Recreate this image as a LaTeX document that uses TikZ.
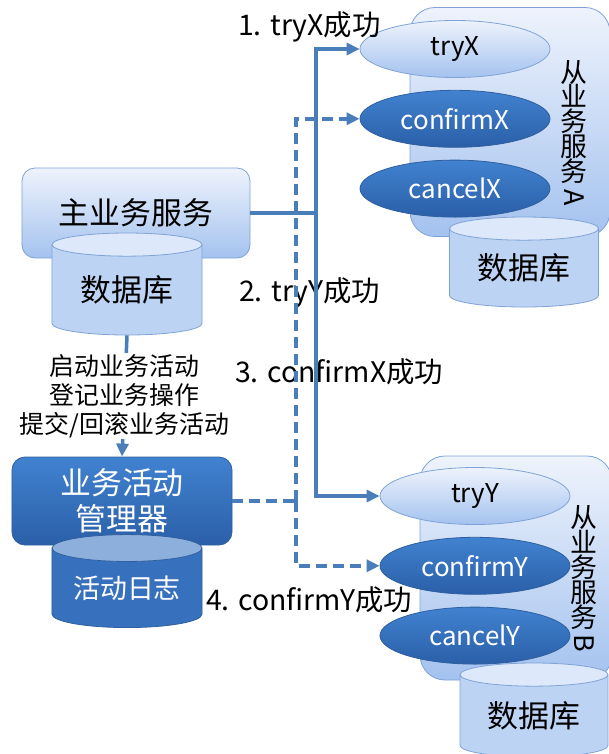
\documentclass[tikz,border=0pt]{standalone}
\usepackage{fontspec}
\setmainfont{Noto Sans CJK SC}
\usepackage{tikz}
\usetikzlibrary{shapes.geometric,arrows.meta,positioning,calc}
\usepackage{xcolor}
\definecolor{PaleTop}{HTML}{EEF3FC}
\definecolor{PaleBottom}{HTML}{A4C2EF}
\definecolor{PaleEdge}{HTML}{7FA3D6}
\definecolor{DeepTop}{HTML}{4182D0}
\definecolor{DeepBottom}{HTML}{2B5FA8}
\definecolor{DeepEdge}{HTML}{2E5F9E}
\definecolor{WireBlue}{HTML}{4A7EBB}
\definecolor{CanEnd}{HTML}{DDE8FA}
\definecolor{CanBody}{HTML}{BDD3F4}
\definecolor{LogEnd}{HTML}{8DAFDC}
\definecolor{LogBody}{HTML}{3771BE}

\begin{document}
\begin{tikzpicture}[x=1bp, y=1bp,
    palebox/.style={draw=PaleEdge, line width=0.8bp, top color=PaleTop, bottom color=PaleBottom, rounded corners=13bp, align=center},
    deepbox/.style={draw=DeepEdge, line width=0.8bp, top color=DeepTop, bottom color=DeepBottom, rounded corners=13bp, align=center, text=white},
    paleoval/.style={ellipse, draw=PaleEdge, line width=0.8bp, top color=PaleTop, bottom color=PaleBottom, minimum width=190bp, minimum height=57bp, inner sep=0pt, font=\fontsize{26}{28}\selectfont},
    deepoval/.style={ellipse, draw=DeepEdge, line width=0.8bp, top color=DeepTop, bottom color=DeepBottom, minimum width=190bp, minimum height=57bp, inner sep=0pt, text=white, font=\fontsize{26}{28}\selectfont},
    can/.style={cylinder, shape border rotate=90, aspect=0.25, draw=PaleEdge, line width=0.8bp, cylinder uses custom fill, cylinder end fill=CanEnd, cylinder body fill=CanBody, inner sep=0pt},
    vtext/.style={align=center, font=\fontsize{27}{25}\selectfont, inner sep=0pt},
    steplabel/.style={anchor=west, font=\fontsize{28.5}{30}\selectfont, inner sep=0pt},
    wire/.style={draw=WireBlue, line width=3.5bp},
    link/.style={wire, -{Triangle[length=13bp,width=12bp]}},
    dlink/.style={link, dash pattern=on 11bp off 6bp}
  ]
    \useasboundingbox (0,0) rectangle (609,-754);

    % Left column: main service and activity manager
    \node[palebox, minimum width=228bp, minimum height=90bp, font=\fontsize{31}{33}\selectfont] (mainSvc) at (136,-213) {主业务服务};
    \node[can, minimum width=150bp, minimum height=102bp, font=\fontsize{31}{33}\selectfont] (mainDB) at (127,-290) {数据库};
    \node[deepbox, minimum width=220bp, minimum height=88bp, font=\fontsize{31}{36}\selectfont] (manager) at (122,-501) {业务活动\\管理器};
    \node[can, draw=DeepEdge, cylinder end fill=LogEnd, cylinder body fill=LogBody, text=white, minimum width=150bp, minimum height=93bp, font=\fontsize{27}{29}\selectfont] (actLog) at (127,-588) {活动日志};

    % Right column: slave service A
    \node[palebox, rounded corners=25bp, minimum width=200bp, minimum height=229bp] (svcA) at (510,-122) {};
    \node[paleoval] (tryX) at (455,-49) {tryX};
    \node[deepoval, below=12bp of tryX] (confirmX) {confirmX};
    \node[deepoval, below=12bp of confirmX] (cancelX) {cancelX};
    \node[can, minimum width=149bp, minimum height=90bp, font=\fontsize{31}{33}\selectfont] (dbA) at (524,-268) {数据库};
    \node[vtext] (nameA) at (574,-133) {从\\业\\务\\服\\务\\[-17bp]\rotatebox{-90}{A}};

    % Right column: slave service B
    \node[palebox, rounded corners=25bp, minimum width=192bp, minimum height=224bp] (svcB) at (516,-568) {};
    \node[paleoval] (tryY) at (475,-496) {tryY};
    \node[deepoval, below=12bp of tryY] (confirmY) {confirmY};
    \node[deepoval, below=12bp of confirmY] (cancelY) {cancelY};
    \node[can, minimum width=148bp, minimum height=94bp, font=\fontsize{31}{33}\selectfont] (dbB) at (534,-716) {数据库};
    \node[vtext] (nameB) at (584,-579) {从\\业\\务\\服\\务\\[-17bp]\rotatebox{-90}{B}};

    % Step labels
    \node[steplabel] (s1) at (238,-27) {1. tryX成功};
    \node[steplabel] (s2) at (239,-293) {2. tryY成功};
    \node[steplabel] (s3) at (235,-372) {3. confirmX成功};
    \node[steplabel] (s4) at (206,-600) {4. confirmY成功};

    % Connectors
    \coordinate (solidBus) at (316,0);
    \coordinate (dashBus) at (296,0);
    \draw[wire] (mainSvc.east) -- (mainSvc.east -| solidBus);
    \draw[link] (mainSvc.east -| solidBus) |- (tryX.west);
    \draw[link] (mainSvc.east -| solidBus) |- (tryY.west);
    \draw[wire, dash pattern=on 11bp off 6bp] (manager.east) -- (manager.east -| dashBus);
    \draw[dlink] (manager.east -| dashBus) |- (confirmX.west);
    \draw[dlink] (manager.east -| dashBus) |- (confirmY.west);
    \draw[link] (mainDB.south) -- node[fill=white, inner sep=1bp, align=center, font=\fontsize{25}{29}\selectfont] {启动业务活动\\登记业务操作\\提交/回滚业务活动} (manager.north);

  \end{tikzpicture}
\end{document}
